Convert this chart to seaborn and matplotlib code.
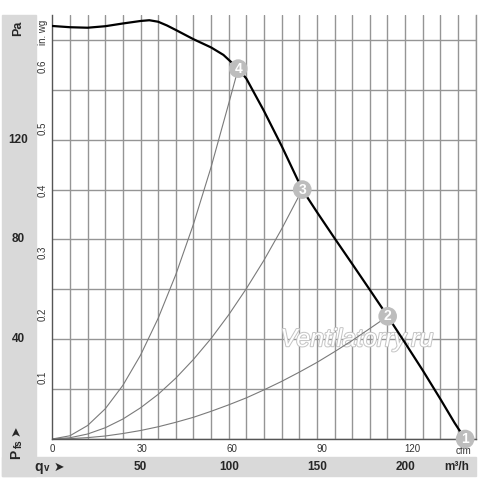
import numpy as np
import pandas as pd
import seaborn as sns
import matplotlib
matplotlib.use("Agg")
import matplotlib.pyplot as plt
from matplotlib.ticker import MultipleLocator, FixedLocator
from matplotlib.patches import Rectangle
import matplotlib.patheffects as pe

# ---------------- data ----------------
# fan curve: airflow qv [m3/h] vs static pressure [Pa]
fan_q = [0, 10, 20, 30, 40, 50, 55, 60, 65, 70, 80, 90, 97, 105.4, 110, 115, 120, 130,
         141.7, 150, 160, 170, 180, 190.1, 200, 210, 220, 228, 234]
fan_pa = [165.6, 165.1, 164.9, 165.5, 166.6, 167.6, 167.9, 167.3, 165.8, 164.0, 160.3,
          157.0, 154.0, 148.5, 144.5, 138.0, 131.5, 117.5, 100.0, 91.0, 80.5, 70.2,
          59.8, 49.2, 38.5, 27.5, 16.0, 6.5, 0.0]

# system curves through operating points 4, 3, 2
sys4_q = [0, 10, 20, 30, 40, 50, 60, 70, 80, 90, 100, 105.4]
sys4_pa = [0, 1.3, 5.4, 12.1, 21.5, 33.6, 48.4, 65.9, 86.1, 109.0, 134.5, 148.5]
sys3_q = [0, 10, 20, 30, 40, 50, 60, 70, 80, 90, 100, 110, 120, 130, 141.7]
sys3_pa = [0, 0.5, 2.0, 4.5, 8.0, 12.5, 17.9, 24.4, 31.9, 40.3, 49.8, 60.3, 71.7, 84.2, 100.0]
sys2_q = [0, 10, 20, 30, 40, 50, 60, 70, 80, 90, 100, 110, 120, 130, 140, 150, 160, 170, 180, 190.1]
sys2_pa = [0, 0.14, 0.55, 1.2, 2.2, 3.4, 4.9, 6.7, 8.7, 11.1, 13.7, 16.5, 19.7, 23.1, 26.8,
           30.7, 35.0, 39.5, 44.3, 49.2]

# operating points
op_q = [234, 190.1, 141.7, 105.4]
op_pa = [0.0, 49.2, 100.0, 148.5]
op_labels = ["1", "2", "3", "4"]

# axis labels
cfm_ticks = [0, 30, 60, 90, 120]
inwg_ticks = [0.1, 0.2, 0.3, 0.4, 0.5, 0.6]
pa_labels = [40, 80, 120]
m3h_labels = [50, 100, 150, 200]

CFM_TO_M3H = 1.699
INWG_TO_PA = 249.09

# ---------------- style ----------------
sns.set_style("white")
plt.rcParams['font.family'] = ['Liberation Sans', 'DejaVu Sans']

W, H = 500, 479
fig = plt.figure(figsize=(W / 100, H / 100), dpi=100)
fig.patch.set_facecolor("white")


def fx(px):
    return px / W


def fy(py):
    return 1 - py / H


L, R, T, B = 52.3, 475.7, 15.0, 439.0
ax = fig.add_axes([fx(L), fy(B), (R - L) / W, (B - T) / H])
ax.set_zorder(1)
ax.patch.set_alpha(0)

band = "#d9d9d9"
fig.patches.append(Rectangle((fx(2), fy(476)), fx(36) - fx(2), fy(15) - fy(476),
                             transform=fig.transFigure, color=band, zorder=-5))
fig.patches.append(Rectangle((fx(2), fy(476)), fx(476) - fx(2), fy(457) - fy(476),
                             transform=fig.transFigure, color=band, zorder=-5))

# ---------------- curves ----------------
fan_df = pd.DataFrame({"q": fan_q, "pa": fan_pa})
sns.lineplot(data=fan_df, x="q", y="pa", ax=ax, color="black", lw=1.6,
             estimator=None, sort=False, zorder=3)
for qq, pp in [(sys4_q, sys4_pa), (sys3_q, sys3_pa), (sys2_q, sys2_pa)]:
    df = pd.DataFrame({"q": qq, "pa": pp})
    sns.lineplot(data=df, x="q", y="pa", ax=ax, color="#7a7a7a", lw=0.8,
                 estimator=None, sort=False, zorder=2)

op_df = pd.DataFrame({"q": op_q, "pa": op_pa})
sns.scatterplot(data=op_df, x="q", y="pa", ax=ax, s=180, color="#bdbdbd",
                edgecolor="none", zorder=5)
ax.collections[-1].set_clip_on(False)
for q, p, lab in zip(op_q, op_pa, op_labels):
    ax.text(q, p, lab, color="white", fontweight="bold", fontsize=10,
            ha="center", va="center", zorder=6, clip_on=False)

# watermark
ax.text(172.7, 40, "Ventilatorry.ru", fontsize=18, style="italic", color="white",
        ha="center", va="center", zorder=1.5,
        path_effects=[pe.withStroke(linewidth=1.4, foreground="#c4c4c4")])

# ---------------- axes ----------------
ax.set_xlim(0, 240)
ax.set_ylim(0, 170)
ax.set_xlabel("")
ax.set_ylabel("")
ax.set_axisbelow(True)

ax.xaxis.set_major_locator(FixedLocator([c * CFM_TO_M3H for c in cfm_ticks]))
ax.set_xticklabels([str(c) for c in cfm_ticks])
ax.xaxis.set_minor_locator(MultipleLocator(10))
ax.yaxis.set_major_locator(FixedLocator([v * INWG_TO_PA for v in inwg_ticks]))
ax.set_yticklabels([f"{v:.1f}" for v in inwg_ticks], rotation=90, va="center")
ax.yaxis.set_minor_locator(MultipleLocator(20))

ax.grid(False)
ax.grid(which="minor", color="#959595", lw=1.0)
ax.tick_params(which="minor", length=0)
ax.tick_params(which="major", length=3, width=0.8, color="#777777", labelsize=7,
               labelcolor="#333333")
ax.tick_params(axis="x", which="major", length=2, pad=1.5)
ax.tick_params(axis="y", which="major", pad=0.5)

for s in ["left", "bottom"]:
    ax.spines[s].set_color("#555555")
    ax.spines[s].set_linewidth(1.0)
ax.spines["right"].set_color("#959595")
ax.spines["right"].set_linewidth(1.0)
ax.spines["top"].set_visible(False)

# unit texts (partly hidden behind marker 1, as in the original)
ax.text(1.0 - 0.028, -0.016, "cfm", transform=ax.transAxes, fontsize=7,
        color="#333333", ha="center", va="top", zorder=4)
fig.text(fx(43), fy(32), "in. wg", rotation=90, fontsize=7, color="#333333",
         ha="center", va="center")

# Pa labels in left band
xa = (18 - L) / (R - L)
for v in pa_labels:
    ax.text(xa, v, str(v), transform=ax.get_yaxis_transform(), fontsize=8.5,
            fontweight="bold", ha="center", va="center", clip_on=False)
fig.text(fx(18), fy(28), "Pa", rotation=90, fontsize=9, fontweight="bold",
         ha="center", va="center")

# m3/h labels in bottom band
ya = (B - 467) / (B - T)
for v in m3h_labels:
    ax.text(v, ya, str(v), transform=ax.get_xaxis_transform(), fontsize=8.5,
            fontweight="bold", ha="center", va="center", clip_on=False)
fig.text(fx(457), fy(467), "m³/h", fontsize=8.5, fontweight="bold",
         ha="center", va="center")

# axis quantity symbols
fig.text(fx(39), fy(467), "q", fontsize=10, fontweight="bold", ha="center", va="center")
fig.text(fx(46.5), fy(468), "v", fontsize=7, fontweight="bold", ha="center", va="center")
fig.text(fx(59), fy(467), "➤", fontsize=9, ha="center", va="center",
         family=["DejaVu Sans"])
fig.text(fx(16), fy(454), "P", rotation=90, fontsize=10, fontweight="bold",
         ha="center", va="center")
fig.text(fx(18.5), fy(444), "fs", rotation=90, fontsize=7, fontweight="bold",
         ha="center", va="center")
fig.text(fx(16.5), fy(431), "➤", rotation=90, fontsize=9, ha="center", va="center",
         family=["DejaVu Sans"])

fig.savefig("out.png", dpi=100, facecolor="white")
